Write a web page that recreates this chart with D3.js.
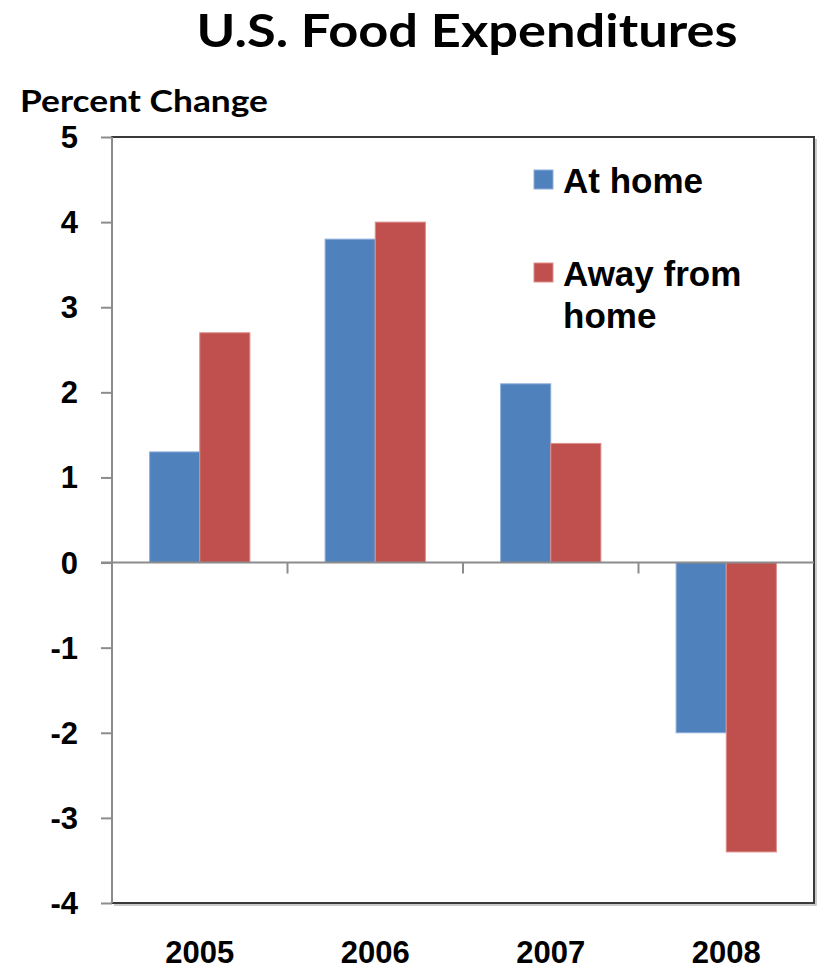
<!DOCTYPE html>
<html>
<head>
<meta charset="utf-8">
<script src="https://cdn.jsdelivr.net/npm/d3@7"></script>
<style>
  body { margin: 0; background: #fff; }
  svg { display: block; }
</style>
</head>
<body>
<script>
(function(){
//chart data
var years = ["2005", "2006", "2007", "2008"];
var seriesNames = ["At home", "Away from home"];
var atHome = [1.3, 3.8, 2.1, -2.0];
var awayFromHome = [2.7, 4.0, 1.4, -3.4];
var yTicks = [5, 4, 3, 2, 1, 0, -1, -2, -3, -4];
var colors = ["#4F81BD", "#C0504D"];
var strokes = ["#8EAEDA", "#DE8F8C"];

window.onload = setChart();

function setChart(){
    //frame dimensions
    var width = 819,
        height = 971,
        plotLeft = 112,
        plotRight = 814,
        plotTop = 137,
        plotBottom = 903;

    var svg = d3.select("body")
        .append("svg")
        .attr("width", width)
        .attr("height", height);

    //scales
    var x0 = d3.scaleBand()
        .domain(years)
        .range([plotLeft, plotRight])
        .paddingInner(0)
        .paddingOuter(0);

    //excel gap width 150% -> bar = band / 3.5
    var x1 = d3.scaleBand()
        .domain([0, 1])
        .range([0, x0.bandwidth()])
        .paddingInner(0)
        .paddingOuter(0.75);

    var y = d3.scaleLinear()
        .domain([-4, 5])
        .range([plotBottom, plotTop]);

    //title
    svg.append("text")
        .attr("x", 467)
        .attr("y", 47)
        .attr("text-anchor", "middle")
        .attr("textLength", 541)
        .attr("lengthAdjust", "spacingAndGlyphs")
        .style("font-family", "Lato, 'Open Sans', sans-serif")
        .style("font-weight", "bold")
        .style("font-size", "46px")
        .text("U.S. Food Expenditures");

    //y axis title
    svg.append("text")
        .attr("x", 20)
        .attr("y", 112)
        .attr("textLength", 248)
        .attr("lengthAdjust", "spacingAndGlyphs")
        .style("font-family", "Lato, 'Open Sans', sans-serif")
        .style("font-weight", "bold")
        .style("font-size", "30px")
        .text("Percent Change");

    //plot frame (top, right, bottom dark)
    svg.append("rect")
        .attr("x", plotLeft)
        .attr("y", plotTop)
        .attr("width", plotRight - plotLeft)
        .attr("height", plotBottom - plotTop)
        .style("fill", "none")
        .style("stroke", "#3a3a3a")
        .style("stroke-width", 2);

    //shadow on right/bottom edges
    svg.append("path")
        .attr("d", "M" + (plotRight + 2) + "," + (plotTop + 2) + "V" + (plotBottom + 2) + "H" + (plotLeft + 2))
        .style("fill", "none")
        .style("stroke", "#bbb")
        .style("stroke-width", 1.5);

    //bars
    var groups = svg.selectAll(".year")
        .data(years)
        .enter()
        .append("g")
        .attr("class", "year")
        .attr("transform", function(d){
            return "translate(" + x0(d) + ",0)";
        });

    groups.selectAll("rect")
        .data(function(d, i){
            return [atHome[i], awayFromHome[i]];
        })
        .enter()
        .append("rect")
        .attr("x", function(d, i){ return x1(i); })
        .attr("width", x1.bandwidth())
        .attr("y", function(d){ return y(Math.max(0, d)); })
        .attr("height", function(d){ return Math.abs(y(d) - y(0)); })
        .style("fill", function(d, i){ return colors[i]; })
        .style("stroke", function(d, i){ return strokes[i]; })
        .style("stroke-width", 1);

    //left axis (gray)
    var yAxis = d3.axisLeft(y)
        .tickValues(yTicks)
        .tickSize(11)
        .tickFormat("");

    var axis = svg.append("g")
        .attr("class", "axis")
        .attr("transform", "translate(" + plotLeft + ",0)")
        .call(yAxis);
    axis.selectAll("line, path").style("stroke", "#8c8c8c").style("stroke-width", 2);
    axis.select(".domain").attr("d", "M0," + plotTop + "V" + plotBottom);

    //y tick labels
    svg.selectAll(".ylabel")
        .data(yTicks)
        .enter()
        .append("text")
        .attr("class", "ylabel")
        .attr("x", 78)
        .attr("y", function(d){ return y(d) + 11; })
        .attr("text-anchor", "end")
        .style("font-family", "'Liberation Sans', Arial, sans-serif")
        .style("font-weight", "bold")
        .style("font-size", "31px")
        .text(function(d){ return d; });

    //zero line with category ticks
    var xAxis = d3.axisBottom(x0)
        .tickValues([])
        .tickSizeOuter(0);
    var zero = svg.append("g")
        .attr("transform", "translate(0," + y(0) + ")")
        .call(xAxis);
    zero.select(".domain")
        .attr("d", "M" + (plotLeft - 11) + ",0H" + plotRight)
        .style("stroke", "#8c8c8c")
        .style("stroke-width", 2);
    zero.selectAll(".cattick")
        .data(years.slice(1))
        .enter()
        .append("line")
        .attr("class", "cattick")
        .attr("x1", function(d){ return x0(d); })
        .attr("x2", function(d){ return x0(d); })
        .attr("y1", 0)
        .attr("y2", 11)
        .style("stroke", "#8c8c8c")
        .style("stroke-width", 2);

    //category labels
    svg.selectAll(".xlabel")
        .data(years)
        .enter()
        .append("text")
        .attr("class", "xlabel")
        .attr("x", function(d){ return x0(d) + x0.bandwidth() / 2; })
        .attr("y", 963)
        .attr("text-anchor", "middle")
        .style("font-family", "'Liberation Sans', Arial, sans-serif")
        .style("font-weight", "bold")
        .style("font-size", "31px")
        .text(function(d){ return d; });

    //legend
    var legendRows = [
        {lines: ["At home"], sy: 170},
        {lines: ["Away from", "home"], sy: 263}
    ];
    var legend = svg.selectAll(".legend")
        .data(legendRows)
        .enter()
        .append("g")
        .attr("class", "legend");
    legend.append("rect")
        .attr("x", 534)
        .attr("y", function(d){ return d.sy; })
        .attr("width", 19)
        .attr("height", 19)
        .style("fill", function(d, i){ return colors[i]; })
        .style("stroke", function(d, i){ return strokes[i]; })
        .style("stroke-width", 1);
    legend.append("text")
        .attr("x", 563)
        .attr("y", function(d){ return d.sy + 23; })
        .style("font-family", "'Liberation Sans', Arial, sans-serif")
        .style("font-weight", "bold")
        .style("font-size", "35px")
        .selectAll("tspan")
        .data(function(d){ return d.lines; })
        .enter()
        .append("tspan")
        .attr("x", 563)
        .attr("dy", function(d, i){ return i === 0 ? 0 : 42; })
        .text(function(d){ return d; });
};//end of setChart

})();
</script>
</body>
</html>
